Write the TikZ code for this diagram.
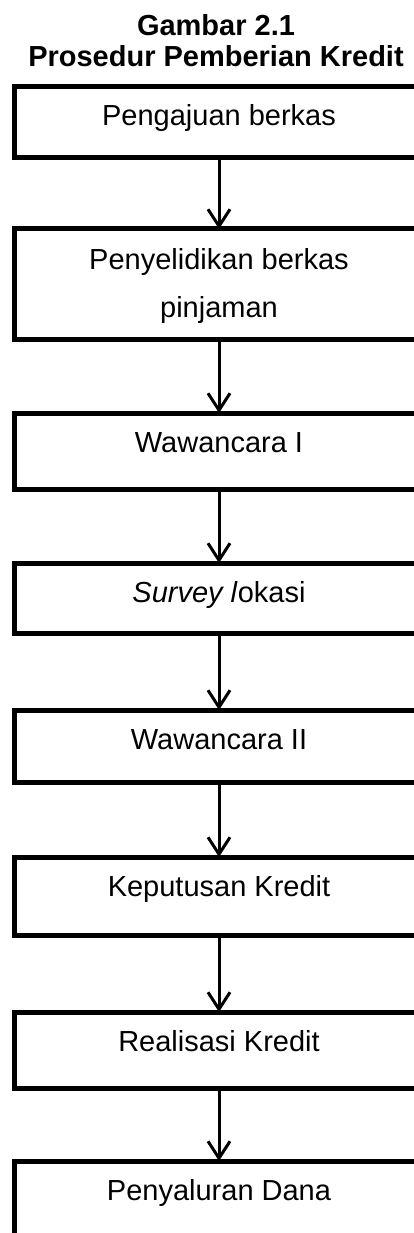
\documentclass[tikz,border=0pt]{standalone}
\usepackage{fontspec}
\setmainfont{Liberation Sans}
\usetikzlibrary{positioning, arrows.meta}

\begin{document}
\begin{tikzpicture}[x=1pt, y=-1pt, node distance=74pt,
    every node/.style={font=\fontsize{29}{48}\selectfont},
    stepbox/.style={draw, rectangle, line width=5pt, minimum width=410pt, inner sep=0pt, outer sep=0pt, align=center, text height=39pt},
    flow/.style={-{Straight Barb[length=17pt, width=22pt, line width=3pt]}, line width=3pt}]
    \useasboundingbox (0,0) rectangle (414,1233);
    \clip (0,0) rectangle (414,1233);

    % Caption
    \node [font=\fontsize{29}{31}\selectfont\bfseries, align=center, inner sep=0pt, anchor=base] (title) at (216,67) {Gambar 2.1\\Prosedur Pemberian Kredit};

    % Steps
    \node [stepbox, text depth=32pt, anchor=north] (b1) at (219,87) {Pengajuan berkas};
    \node [stepbox, text height=88pt, text depth=22pt, below=71pt of b1] (b2) {Penyelidikan berkas\\pinjaman};
    \node [stepbox, text depth=37pt, below=of b2] (b3) {Wawancara I};
    \node [stepbox, text depth=31pt, below=of b3] (b4) {\textit{Survey l}okasi};
    \node [stepbox, text depth=33pt, below=77pt of b4] (b5) {Wawancara II};
    \node [stepbox, text depth=39pt, below=75pt of b5] (b6) {Keputusan Kredit};
    \node [stepbox, text depth=37pt, below=77pt of b6] (b7) {Realisasi Kredit};
    \node [stepbox, text depth=50pt, below=73pt of b7] (b8) {Penyaluran Dana};

    % Arrows
    \draw [flow] (b1) -- (b2);
    \draw [flow] (b2) -- (b3);
    \draw [flow] (b3) -- (b4);
    \draw [flow] (b4) -- (b5);
    \draw [flow] (b5) -- (b6);
    \draw [flow] (b6) -- (b7);
    \draw [flow] (b7) -- (b8);
\end{tikzpicture}
\end{document}
